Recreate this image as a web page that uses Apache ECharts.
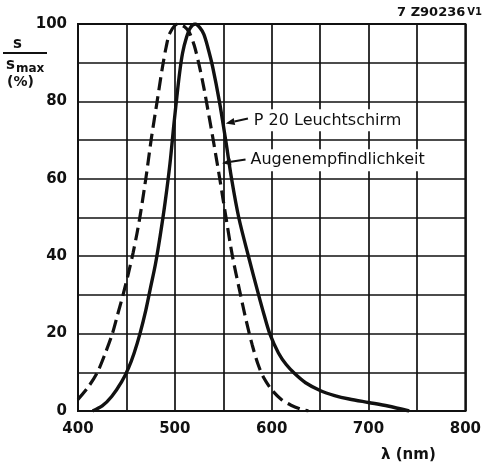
<!DOCTYPE html>
<html>
<head>
<meta charset="utf-8">
<script src="https://cdn.jsdelivr.net/npm/echarts@6/dist/echarts.min.js"></script>
<style>
  html, body { margin: 0; padding: 0; background: #fff; }
  #chart { width: 484px; height: 465px; }
</style>
</head>
<body>
<div id="chart"></div>
<script>
// Augenempfindlichkeit (gestrichelt)
var eyeNm  = [400, 410, 420, 428, 435.5, 441, 446.5, 452, 457, 461, 464.5, 470.3, 475.5, 481.7, 487, 491, 495, 503, 510, 515, 520, 525, 530, 534, 540, 546.4, 552.5, 559.5, 567, 574, 580, 586, 592, 600, 610, 620, 630, 638];
var eyeVal = [3, 6, 10, 14.8, 20, 25, 30, 35.5, 41, 46, 51, 60.5, 70, 80, 88.5, 94, 97.7, 100, 99.3, 97.8, 94.5, 89.5, 83.5, 78, 69.5, 60, 50.5, 40, 31, 23, 17, 12, 8.5, 5.5, 3, 1.5, 0.5, 0];
// P 20 Leuchtschirm (durchgezogen)
var p20Nm  = [415, 425, 435, 445, 452, 458, 464, 470, 475, 480, 485, 490, 495, 499, 502, 505, 508, 512, 516, 521, 526, 530, 534, 539, 546, 552.5, 558.6, 566, 576, 586.5, 592, 598, 607, 615, 624, 635, 650, 665, 680, 700, 720, 742];
var p20Val = [0, 1.3, 3.8, 7.5, 11, 15, 20, 26, 32, 38, 45.5, 54, 64, 74, 81, 87.5, 92.5, 96.5, 99, 100, 99, 97.3, 94, 89, 80, 70, 60, 50, 40, 30, 25, 20, 15, 12, 9.6, 7.3, 5.3, 4, 3.1, 2.2, 1.3, 0];
var xTicks = [400, 500, 600, 700, 800];
var yTicks = [0, 20, 40, 60, 80, 100];

function zip(a, b) {
    var out = [];
    for (var i = 0; i < a.length; i++) out.push([a[i], b[i]]);
    return out;
}

var FONT = "DejaVu Sans";
var INK = "#111";

var myChart = echarts.init(document.getElementById("chart"), null, { renderer: "canvas" });

myChart.setOption({
    animation: false,
    backgroundColor: "#fff",
    grid: { left: 78, right: 16, top: 24, bottom: 54, show: true, borderColor: INK, borderWidth: 2 },
    xAxis: {
        type: "value",
        min: 400,
        max: 800,
        interval: 50,
        axisLine: { show: true, lineStyle: { color: INK, width: 2 } },
        axisTick: { show: false },
        splitLine: { show: true, lineStyle: { color: INK, width: 1.7 } },
        axisLabel: {
            margin: 11,
            color: INK,
            fontFamily: FONT,
            fontWeight: "bold",
            fontSize: 15,
            formatter: function(v) { return xTicks.indexOf(v) >= 0 ? String(v) : ""; }
        }
    },
    yAxis: {
        type: "value",
        min: 0,
        max: 100,
        interval: 10,
        axisLine: { show: true, lineStyle: { color: INK, width: 2 } },
        axisTick: { show: false },
        splitLine: { show: true, lineStyle: { color: INK, width: 1.7 } },
        axisLabel: {
            margin: 11,
            color: INK,
            fontFamily: FONT,
            fontWeight: "bold",
            fontSize: 15,
            formatter: function(v) { return yTicks.indexOf(v) >= 0 ? String(v) : ""; }
        }
    },
    series: [
        {
            name: "Augenempfindlichkeit",
            type: "line",
            data: zip(eyeNm, eyeVal),
            smooth: 0.3,
            showSymbol: false,
            lineStyle: { color: INK, width: 3.2, type: [13, 6] },
            z: 3
        },
        {
            name: "P 20 Leuchtschirm",
            type: "line",
            data: zip(p20Nm, p20Val),
            smooth: 0.3,
            showSymbol: false,
            lineStyle: { color: INK, width: 3.4 },
            z: 4
        }
    ]
});

// Beschriftungen mit Pfeilen
function arrow(tail, tip) {
    var a = myChart.convertToPixel({ gridIndex: 0 }, tail);
    var b = myChart.convertToPixel({ gridIndex: 0 }, tip);
    var dx = b[0] - a[0], dy = b[1] - a[1];
    var len = Math.sqrt(dx * dx + dy * dy);
    var ux = dx / len, uy = dy / len;
    var hl = 9, hw = 3.5;
    var bx = b[0] - ux * hl, by = b[1] - uy * hl;
    return [
        { type: "line", shape: { x1: a[0], y1: a[1], x2: bx, y2: by }, style: { stroke: INK, lineWidth: 2 }, z: 10 },
        { type: "polygon", shape: { points: [[b[0], b[1]], [bx - uy * hw, by + ux * hw], [bx + uy * hw, by - ux * hw]] }, style: { fill: INK }, z: 10 }
    ];
}

function label(text, at) {
    var p = myChart.convertToPixel({ gridIndex: 0 }, at);
    return {
        type: "text", x: p[0], y: p[1], z: 10,
        style: {
            text: text, fill: INK, font: "16px '" + FONT + "'",
            verticalAlign: "middle", backgroundColor: "#fff", padding: [3, 2, 3, 2]
        }
    };
}

var graphics = [];
graphics = graphics.concat(arrow([575.5, 75.6], [552.5, 74.3]));
graphics = graphics.concat(arrow([573, 65], [548.7, 64]));
graphics.push(label("P 20 Leuchtschirm", [579.5, 75.1]));
graphics.push(label("Augenempfindlichkeit", [576, 64.8]));

// Achsentitel
graphics.push({ type: "text", left: 381, top: 448, style: { text: "λ (nm)", fill: INK, font: "bold 15px '" + FONT + "'" } });
graphics.push({ type: "text", left: 13, top: 37, style: { text: "s", fill: INK, font: "bold 15px '" + FONT + "'" } });
graphics.push({ type: "line", shape: { x1: 3, y1: 53, x2: 47, y2: 53 }, style: { stroke: INK, lineWidth: 1.8 } });
graphics.push({ type: "text", left: 6, top: 58, style: { text: "s", fill: INK, font: "bold 15px '" + FONT + "'" } });
graphics.push({ type: "text", left: 16, top: 63, style: { text: "max", fill: INK, font: "bold 12px '" + FONT + "'" } });
graphics.push({ type: "text", left: 7, top: 75, style: { text: "(%)", fill: INK, font: "bold 14px '" + FONT + "'" } });
graphics.push({
    type: "text", right: 2, top: 6,
    style: {
        text: "{a|7 Z90236}{b|V1}",
        rich: {
            a: { fill: INK, font: "bold 13px '" + FONT + "'" },
            b: { fill: INK, font: "bold 10px '" + FONT + "'", padding: [0, 0, 0, 2] }
        }
    }
});

myChart.setOption({ graphic: graphics });
</script>
</body>
</html>
